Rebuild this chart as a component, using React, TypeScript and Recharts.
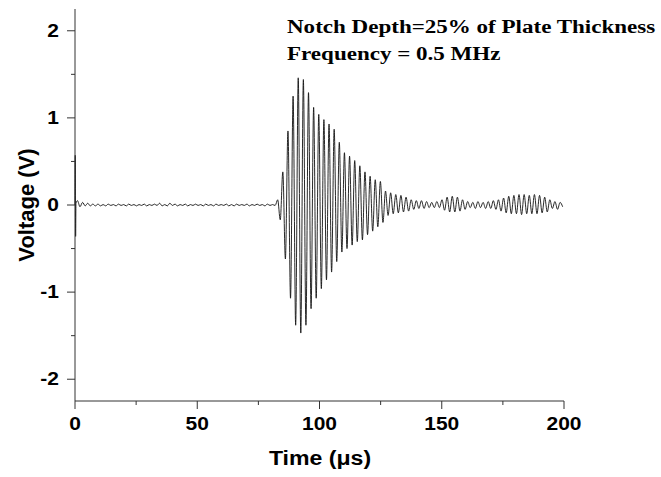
import { Line, LineChart, XAxis, YAxis } from "recharts";

// ---------------------------------------------------------------------------
//  Data
// ---------------------------------------------------------------------------

const X_TICKS = [0, 25, 50, 75, 100, 125, 150, 175, 200];
const X_LABELS = ["0", "", "50", "", "100", "", "150", "", "200"];
const Y_TICKS = [-2, -1.5, -1, -0.5, 0, 0.5, 1, 1.5, 2];
const Y_LABELS = ["-2", "", "-1", "", "0", "", "1", "", "2"];

const TITLE_LINES = ["Notch Depth=25% of Plate Thickness", "Frequency = 0.5 MHz"];

// trigger spike at t = 0
const SPIKE_TIME = [0, 0.1, 0.25, 0.4];
const SPIKE_VOLTS = [0, 0.57, -0.36, 0.02];

// trace extremes, one every half period starting at TRACE_START (µs)
const TRACE_START = 1.0;
const TRACE_STEP = 1.05;

const NOISE_VOLTS = [
  0.05, -0.02, 0.03, -0.01, 0.02, -0.01, 0.01, -0.01, 0.01, -0.01,
  0.005, -0.01, 0.01, -0.005, 0.005, -0.01, 0.01, -0.005, 0.005, -0.01,
  0.01, -0.005, 0.005, -0.01, 0.005, -0.005, 0.01, -0.01, 0.005, -0.005,
  0.01, -0.005, 0.02, -0.01, 0.005, -0.01, 0.02, -0.005, 0.01, -0.01,
  0.005, -0.005, 0.01, -0.01, 0.005, -0.005, 0.01, -0.005, 0.005, -0.01,
  0.01, -0.005, 0.005, -0.01, 0.01, -0.005, 0.005, -0.005, 0.01, -0.01,
  0.005, -0.01, 0.01, -0.005, 0.005, -0.005, 0.01, -0.01, 0.005, -0.005,
  0.01, -0.005, 0.005, -0.01, 0.01, -0.005, 0.005, -0.005,
  0.06, -0.17,
];

const BURST_VOLTS = [
  0.38, -0.62, 0.85, -1.07, 1.25, -1.38, 1.46, -1.47, 1.44, -1.38,
  1.29, -1.19, 1.12, -1.07, 1.04, -0.96, 0.98, -0.86, 0.93, -0.77,
  0.87, -0.65, 0.72, -0.54, 0.6, -0.5, 0.56, -0.46, 0.51, -0.42,
  0.45, -0.4, 0.38, -0.34, 0.33, -0.3, 0.29, -0.25, 0.27, -0.2,
  0.16, -0.12,
];

const TAIL_VOLTS = [
  0.14, -0.1, 0.12, -0.09, 0.11, -0.08, 0.09, -0.07,
  0.06, -0.05, 0.05, -0.04, 0.05, -0.04, 0.04, -0.03, 0.03, -0.03, 0.04, -0.03,
  0.06, -0.06, 0.09, -0.08, 0.1, -0.08, 0.09, -0.07, 0.06, -0.05,
  0.04, -0.03, 0.03, -0.04, 0.04, -0.03, 0.03, -0.04, 0.04, -0.04, 0.05, -0.05, 0.06,
  -0.07, 0.08, -0.09, 0.1, -0.1, 0.11, -0.1, 0.12, -0.11, 0.12,
  -0.1, 0.11, -0.1, 0.12, -0.1, 0.11, -0.09, 0.09, -0.08, 0.06,
  -0.04, 0.04, -0.05, 0.03, -0.02,
];

const TRACE_VOLTS = [...NOISE_VOLTS, ...BURST_VOLTS, ...TAIL_VOLTS];

const data = [
  ...SPIKE_TIME.map((t, i) => ({ t, v: SPIKE_VOLTS[i] })),
  ...TRACE_VOLTS.map((v, i) => ({ t: TRACE_START + i * TRACE_STEP, v })),
];

// ---------------------------------------------------------------------------
//  Styling
// ---------------------------------------------------------------------------

const SANS = "'Liberation Sans', Arial, sans-serif";
const SERIF = "'Liberation Serif', 'Times New Roman', serif";
const AXIS = "#333";

function XTick(props: any) {
  const { x, y, payload } = props;
  const i = X_TICKS.indexOf(payload.value);
  const label = X_LABELS[i] ?? "";
  const major = label !== "";
  return (
    <g>
      <line x1={x} x2={x} y1={y} y2={y + (major ? 8 : 4)} stroke={AXIS} />
      {major && (
        <text
          transform={`translate(${x},${y + 29}) scale(1.2,1)`}
          textAnchor="middle"
          fontFamily={SANS}
          fontWeight="bold"
          fontSize={17.5}
          fill="#000"
        >
          {label}
        </text>
      )}
    </g>
  );
}

function YTick(props: any) {
  const { x, y, payload } = props;
  const i = Y_TICKS.findIndex((t) => Math.abs(t - payload.value) < 1e-6);
  const label = Y_LABELS[i] ?? "";
  const major = label !== "";
  return (
    <g>
      <line x1={x - (major ? 8 : 4)} x2={x} y1={y} y2={y} stroke={AXIS} />
      {major && (
        <text
          transform={`translate(${x - 16},${y + 6}) scale(1.2,1)`}
          textAnchor="end"
          fontFamily={SANS}
          fontWeight="bold"
          fontSize={17.5}
          fill="#000"
        >
          {label}
        </text>
      )}
    </g>
  );
}

export default function App() {
  return (
    <div style={{ position: "absolute", left: 0, top: 0, width: 661, height: 477, background: "#fff" }}>
      <LineChart
        width={661}
        height={477}
        data={data}
        margin={{ top: 9, right: 97, bottom: 0, left: 0 }}
      >
        <XAxis
          dataKey="t"
          type="number"
          domain={[0, 200]}
          ticks={X_TICKS}
          interval={0}
          height={76}
          tickSize={0}
          tickMargin={0}
          tickLine={false}
          axisLine={{ stroke: AXIS }}
          tick={<XTick />}
        />
        <YAxis
          dataKey="v"
          type="number"
          domain={[-2.25, 2.25]}
          ticks={Y_TICKS}
          interval={0}
          width={75}
          allowDataOverflow
          tickSize={0}
          tickMargin={0}
          tickLine={false}
          axisLine={{ stroke: AXIS }}
          tick={<YTick />}
        />
        <Line
          type="monotone"
          dataKey="v"
          stroke="#111"
          strokeWidth={0.9}
          dot={false}
          isAnimationActive={false}
        />
      </LineChart>
      <svg
        width={661}
        height={477}
        style={{ position: "absolute", left: 0, top: 0, pointerEvents: "none" }}
      >
        {TITLE_LINES.map((line, i) => (
          <text
            key={line}
            transform={`translate(287,${33 + i * 27}) scale(1.2,1)`}
            fontFamily={SERIF}
            fontWeight="bold"
            fontSize={19.2}
            fill="#000"
          >
            {line}
          </text>
        ))}
        <text
          transform="translate(34,205) rotate(-90)"
          textAnchor="middle"
          fontFamily={SANS}
          fontWeight="bold"
          fontSize={22}
          fill="#000"
        >
          Voltage (V)
        </text>
        <text
          transform="translate(320,465) scale(1.1,1)"
          textAnchor="middle"
          fontFamily={SANS}
          fontWeight="bold"
          fontSize={21}
          fill="#000"
        >
          Time (μs)
        </text>
      </svg>
    </div>
  );
}
